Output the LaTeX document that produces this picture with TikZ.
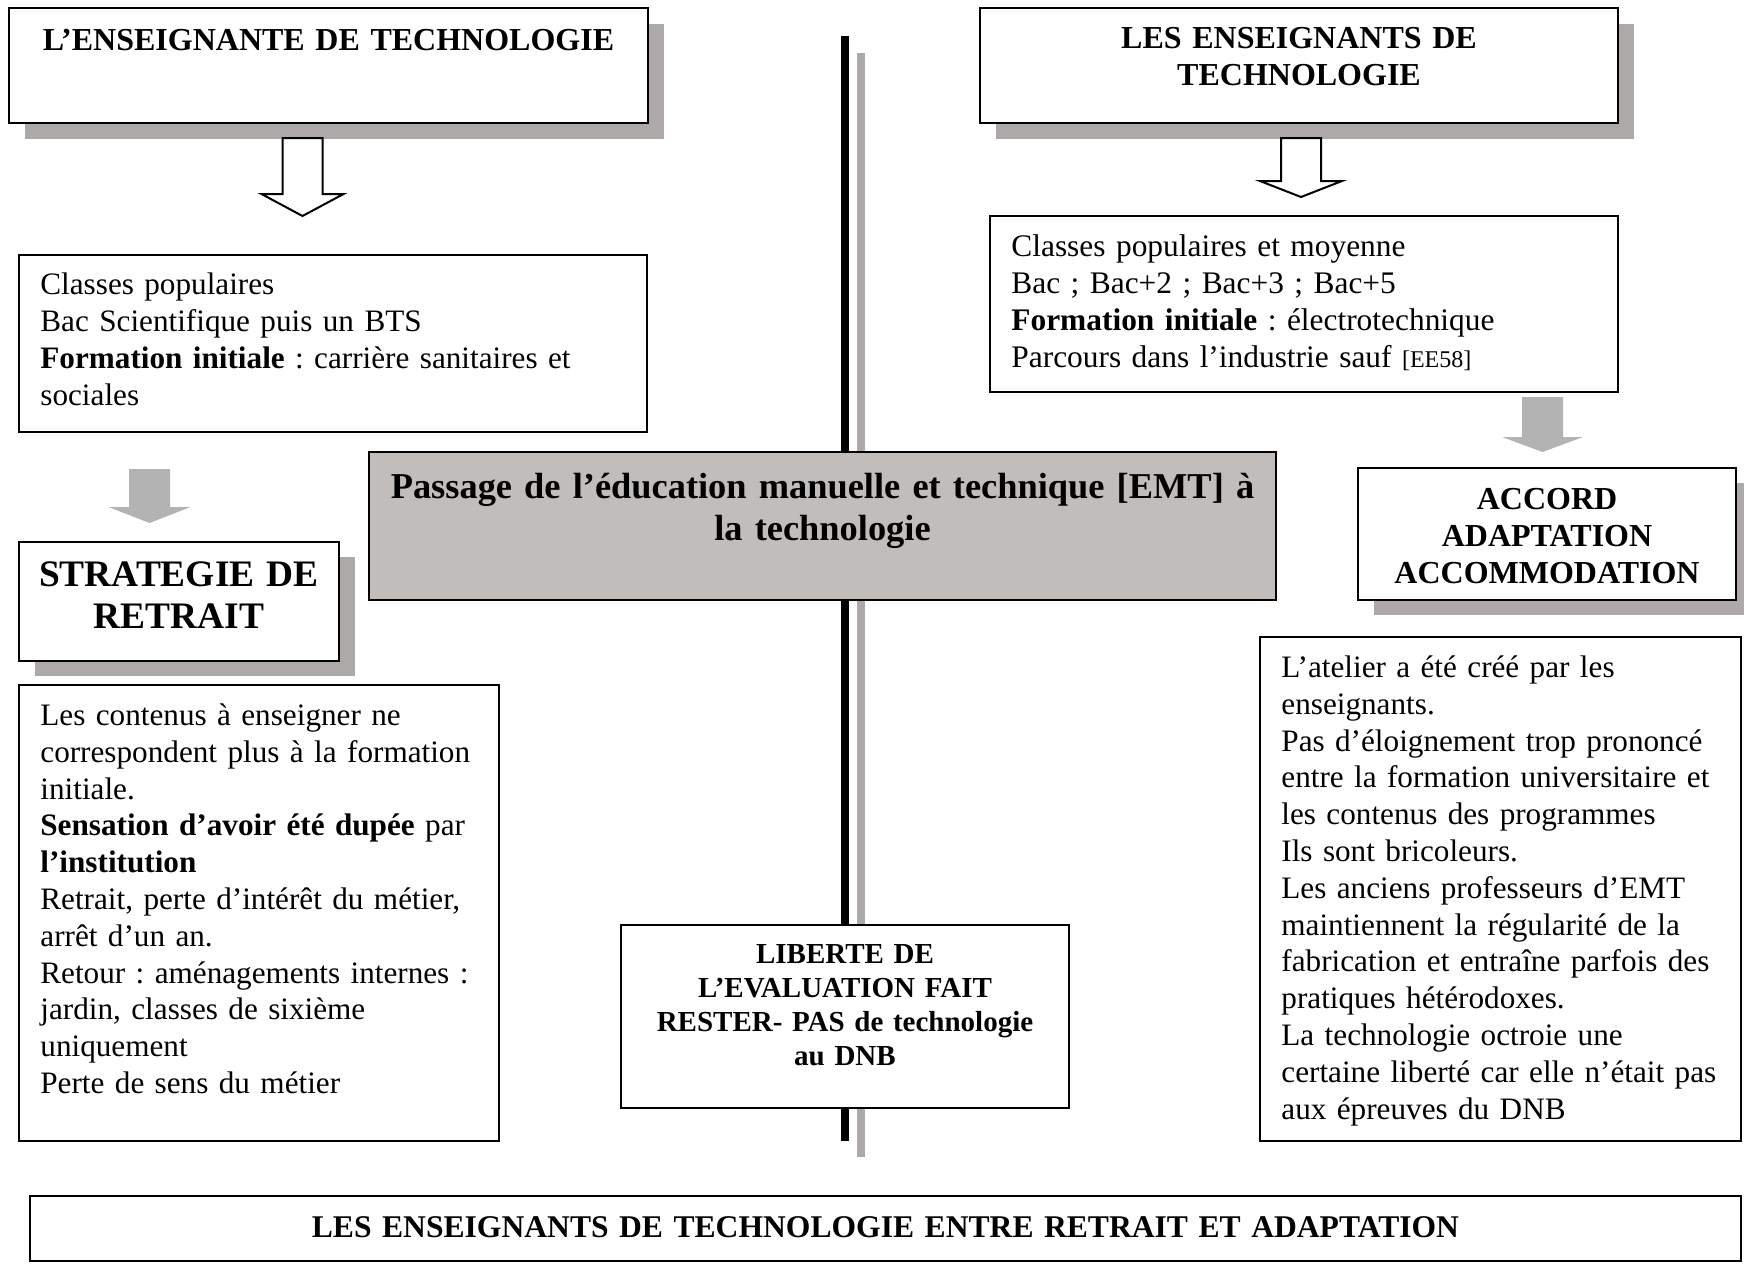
\documentclass[tikz,border=0pt]{standalone}
\usepackage{fontspec}
\setmainfont{Liberation Serif}
\usetikzlibrary{fit,calc}
\definecolor{shadowgray}{HTML}{ADA9A8}
\definecolor{centerfill}{HTML}{C0BDBB}
\definecolor{arrowgray}{HTML}{B3B3B3}
\frenchspacing
\begin{document}
\begin{tikzpicture}[x=0.5pt,y=-0.5pt,
  box/.style={draw=black, line width=1pt, fill=white, inner sep=0pt, outer sep=0pt},
  graybox/.style={box, fill=centerfill},
  shadowfill/.style={fill=shadowgray, draw=none},
  bodytext/.style={anchor=base west, inner sep=0pt, align=left, text width=330pt,
                   font=\fontsize{15.6}{18.4}\selectfont\frenchspacing},
  titlec/.style={anchor=base, inner sep=0pt, align=center, text width=#1,
                 font=\fontsize{16}{18.5}\selectfont\bfseries\frenchspacing},
  bigtitle/.style={anchor=base, inner sep=0pt, align=center, text width=#1,
                 font=\fontsize{18.7}{21}\selectfont\bfseries\frenchspacing},
  smalltitle/.style={anchor=base, inner sep=0pt, align=center, text width=#1,
                 font=\fontsize{14.5}{17}\selectfont\bfseries\frenchspacing},
  hollowarrow/.style={draw=black, line width=1pt, fill=white, line join=miter},
  grayarrow/.style={fill=arrowgray, draw=none},
  vline/.style={line width=4.3pt},
  vshadow/.style={line width=4.2pt, draw=shadowgray}
]
\useasboundingbox (0,0) rectangle (1744,1264);

% corner coordinates of the boxes
\coordinate (b1a) at (9,8);      \coordinate (b1b) at (648,123);
\coordinate (lb2a) at (19,255);  \coordinate (lb2b) at (647,432);
\coordinate (sa) at (19,542);    \coordinate (sb) at (339,661);
\coordinate (lga) at (19,685);   \coordinate (lgb) at (499,1141);
\coordinate (ca) at (369,452);   \coordinate (cb) at (1276,600);
\coordinate (la) at (621,925);   \coordinate (lbb) at (1069,1108);
\coordinate (bta) at (30,1196);  \coordinate (btb) at (1741,1261);
\coordinate (r1a) at (980,8);    \coordinate (r1b) at (1618,123);
\coordinate (r2a) at (990,216);  \coordinate (r2b) at (1618,392);
\coordinate (aa) at (1358,468);  \coordinate (ab) at (1736,600);
\coordinate (rga) at (1260,637); \coordinate (rgb) at (1741,1141);

% shadows
\fill[shadowfill] ($(b1a)+(16,16)$) rectangle ($(b1b)+(16,16)$);
\fill[shadowfill] ($(r1a)+(16,16)$) rectangle ($(r1b)+(16,16)$);
\fill[shadowfill] ($(sa)+(16,15)$) rectangle ($(sb)+(16,15)$);
\fill[shadowfill] ($(aa)+(16,15)$) rectangle ($(ab)+(16,15)$);

% central line and its shadow
\coordinate (ltop) at (845,36);  \coordinate (lbot) at (845,1141);
\coordinate (stop) at (861,53);  \coordinate (sbot) at (861,1157);
\draw[vshadow] (stop) -- (sbot);
\draw[vline] (ltop) -- (lbot);

% boxes
\node[box, fit=(b1a)(b1b)] (box1) {};
\node[box, fit=(lb2a)(lb2b)] (lbox2) {};
\node[box, fit=(sa)(sb)] (strat) {};
\node[box, fit=(lga)(lgb)] (lbig) {};
\node[graybox, fit=(ca)(cb)] (center) {};
\node[box, fit=(la)(lbb)] (liberte) {};
\node[box, fit=(bta)(btb)] (bottom) {};
\node[box, fit=(r1a)(r1b)] (rbox1) {};
\node[box, fit=(r2a)(r2b)] (rbox2) {};
\node[box, fit=(aa)(ab)] (accord) {};
\node[box, fit=(rga)(rgb)] (rbig) {};

% block arrows
\draw[hollowarrow] (282.5,138) -- (322.5,138) -- (322.5,194) -- (343.5,194) -- (302.5,216)
   -- (261.5,194) -- (282.5,194) -- cycle;
\draw[hollowarrow] (1281,138) -- (1321,138) -- (1321,181) -- (1342,181) -- (1301,197)
   -- (1260,181) -- (1281,181) -- cycle;
\fill[grayarrow] (129,469) -- (170,469) -- (170,507) -- (190.5,507) -- (149.5,523)
   -- (108.5,507) -- (129,507) -- cycle;
\fill[grayarrow] (1522,397) -- (1563,397) -- (1563,437) -- (1583,437) -- (1542.5,452)
   -- (1502,437) -- (1522,437) -- cycle;

% texts
\node[titlec=319.5pt] (t1) at (328.5,50) {L’ENSEIGNANTE DE TECHNOLOGIE};
\node[titlec=319pt, font=\fontsize{16}{18.5}\selectfont\bfseries] (tr1) at (1299,48) {LES ENSEIGNANTS DE\\TECHNOLOGIE};

\node[bodytext, font=\fontsize{15.6}{18.5}\selectfont] (tl2) at (40,294.5) {Classes populaires\\
Bac Scientifique puis un BTS\\
\textbf{Formation initiale} : carrière sanitaires et\\
sociales};

\node[bodytext, font=\fontsize{15.7}{18.5}\selectfont] (tr2) at (1011,256.5) {Classes populaires et moyenne\\
Bac ; Bac+2 ; Bac+3 ; Bac+5\\
\textbf{Formation initiale} : électrotechnique\\
Parcours dans l’industrie sauf {\fontsize{12}{14}\selectfont[EE58]}};

\node[bigtitle=160pt] (ts) at (179,586) {STRATEGIE DE\\RETRAIT};
\node[bigtitle=453pt, font=\fontsize{18.2}{21}\selectfont\bfseries] (tc) at (822.5,498) {Passage de l’éducation manuelle et technique [EMT] à\\la technologie};
\node[titlec=189pt] (ta) at (1547,509) {ACCORD\\ADAPTATION\\ACCOMMODATION};

\node[bodytext] (tlg) at (40,725.5) {Les contenus à enseigner ne\\
correspondent plus à la formation\\
initiale.\\
\textbf{Sensation d’avoir été dupée} par\\
\textbf{l’institution}\\
Retrait, perte d’intérêt du métier,\\
arrêt d’un an.\\
Retour : aménagements internes :\\
jardin, classes de sixième\\
uniquement\\
Perte de sens du métier};

\node[bodytext] (trg) at (1281,677.5) {L’atelier a été créé par les\\
enseignants.\\
Pas d’éloignement trop prononcé\\
entre la formation universitaire et\\
les contenus des programmes\\
Ils sont bricoleurs.\\
Les anciens professeurs d’EMT\\
maintiennent la régularité de la\\
fabrication et entraîne parfois des\\
pratiques hétérodoxes.\\
La technologie octroie une\\
certaine liberté car elle n’était pas\\
aux épreuves du DNB};

\node[smalltitle=224pt] (tlib) at (845,963) {LIBERTE DE\\L’EVALUATION FAIT\\RESTER- PAS de technologie\\au DNB};

\node[titlec=855pt, font=\fontsize{15.8}{18.5}\selectfont\bfseries] (tb) at (885.5,1237) {LES ENSEIGNANTS DE TECHNOLOGIE ENTRE RETRAIT ET ADAPTATION};
\end{tikzpicture}
\end{document}
